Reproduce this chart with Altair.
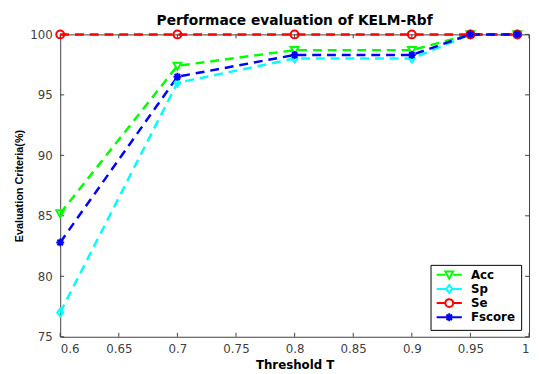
import altair as alt
import pandas as pd

thresholds = [0.6, 0.7, 0.8, 0.9, 0.95, 0.99]
acc = [85.2, 97.4, 98.7, 98.7, 100, 100]
sp = [77.0, 96.0, 98.0, 98.0, 100, 100]
se = [100, 100, 100, 100, 100, 100]
fscore = [82.8, 96.5, 98.3, 98.3, 100, 100]

series_names = ["Acc", "Sp", "Se", "Fscore"]
series_colors = ["#00FF00", "#00FFFF", "#FF0000", "#0000FF"]
x_ticks = [0.6, 0.65, 0.7, 0.75, 0.8, 0.85, 0.9, 0.95, 1.0]
y_ticks = [75, 80, 85, 90, 95, 100]

marker_paths = [
    "M-1,-0.8L1,-0.8L0,1Z",
    "M0,-1L0.75,0L0,1L-0.75,0Z",
    "circle",
    "M-1,0H1M0,-1V1M-0.7,-0.7L0.7,0.7M-0.7,0.7L0.7,-0.7",
]
legend_paths = [
    "M-3.2,0H-1M1,0H3.2" + "M-1,-0.8L1,-0.8L0,1Z",
    "M-3.2,0H-0.75M0.75,0H3.2" + "M0,-1L0.75,0L0,1L-0.75,0Z",
    "M-3.2,0H-1M1,0H3.2" + "M-1,0A1,1 0 1,0 1,0A1,1 0 1,0 -1,0Z",
    "M-3.2,0H3.2" + "M0,-1V1M-0.7,-0.7L0.7,0.7M-0.7,0.7L0.7,-0.7",
]

rows = []
for name, vals in zip(series_names, [acc, sp, se, fscore]):
    for t, v in zip(thresholds, vals):
        rows.append({"T": t, "value": v, "series": name})
df = pd.DataFrame(rows)

W, H = 476, 307
FONT = "Liberation Sans"
WFONT = "DejaVu Sans"
GRAY = "#404040"

xscale = alt.Scale(domain=[0.6, 1.0], nice=False, zero=False)
yscale = alt.Scale(domain=[75, 100], nice=False, zero=False)

x_enc = alt.X("T:Q", scale=xscale, title="Threshold T",
              axis=alt.Axis(values=x_ticks, format=".2~f", ticks=False, domain=False,
                            grid=False, labelPadding=7, titlePadding=5,
                            titleFont=WFONT, titleFontSize=12))
y_enc = alt.Y("value:Q", scale=yscale, title="Evaluation Criteria(%)",
              axis=alt.Axis(values=y_ticks, ticks=False, domain=False, grid=False,
                            labelPadding=8, titlePadding=5, titleFont=FONT, titleFontSize=11))

lines = alt.Chart(df).mark_line(strokeWidth=2.5, strokeDash=[9, 6]).encode(
    x=x_enc, y=y_enc,
    color=alt.Color("series:N", scale=alt.Scale(domain=series_names, range=series_colors), legend=None),
)

points = alt.Chart(df).mark_point(filled=False, strokeWidth=2, size=64, opacity=1).encode(
    x="T:Q", y="value:Q",
    color=alt.Color("series:N", scale=alt.Scale(domain=series_names, range=series_colors), legend=None),
    shape=alt.Shape("series:N", scale=alt.Scale(domain=series_names, range=marker_paths), legend=None),
)

leg = alt.Legend(orient="none", legendX=376, legendY=234,
                 title="\u00a0\u00a0", titleOrient="right", titlePadding=2,
                 titleFont=WFONT, titleFontSize=10,
                 strokeColor="#000000", fillColor="#FFFFFF", padding=4,
                 symbolOffset=9, labelOffset=16, labelFont=WFONT, labelFontSize=12,
                 labelFontWeight="bold", labelColor="#000000", rowPadding=-1.6,
                 symbolStrokeWidth=2, symbolOpacity=1, symbolSize=64, cornerRadius=0)

legend_layer = alt.Chart(df).mark_point(filled=False, strokeWidth=2, size=64, opacity=0).encode(
    x="T:Q", y="value:Q",
    color=alt.Color("series:N", scale=alt.Scale(domain=series_names, range=series_colors), legend=leg),
    shape=alt.Shape("series:N", scale=alt.Scale(domain=series_names, range=legend_paths), legend=leg),
)

xt = pd.DataFrame({"T": x_ticks})
yt = pd.DataFrame({"value": y_ticks})
tick_style = dict(color=GRAY, strokeWidth=1)
t_bottom = alt.Chart(xt).mark_rule(**tick_style).encode(x="T:Q", y=alt.value(H), y2=alt.value(H - 4))
t_top = alt.Chart(xt).mark_rule(**tick_style).encode(x="T:Q", y=alt.value(0), y2=alt.value(4))
t_left = alt.Chart(yt).mark_rule(**tick_style).encode(y="value:Q", x=alt.value(0), x2=alt.value(4))
t_right = alt.Chart(yt).mark_rule(**tick_style).encode(y="value:Q", x=alt.value(W), x2=alt.value(W - 4))

chart = alt.layer(t_bottom, t_top, t_left, t_right, lines, points, legend_layer).resolve_scale(
    color="independent", shape="independent"
).resolve_legend(
    color="independent", shape="independent"
).properties(
    width=W, height=H,
    background="white",
    title=alt.TitleParams("Performace evaluation of KELM-Rbf", anchor="middle", frame="group",
                          font=WFONT, fontSize=14, fontWeight="bold", color="#000000", offset=-1),
    autosize=alt.AutoSizeParams(type="none"),
    padding={"left": 53, "top": 24, "right": 2, "bottom": 35},
).configure_view(
    stroke=GRAY, strokeWidth=1
).configure_axis(
    labelFont=WFONT, labelFontSize=12, labelColor=GRAY,
    titleFontWeight="bold", titleColor="#000000",
)

chart.save("out.html", embed_options={"renderer": "svg", "actions": False})
